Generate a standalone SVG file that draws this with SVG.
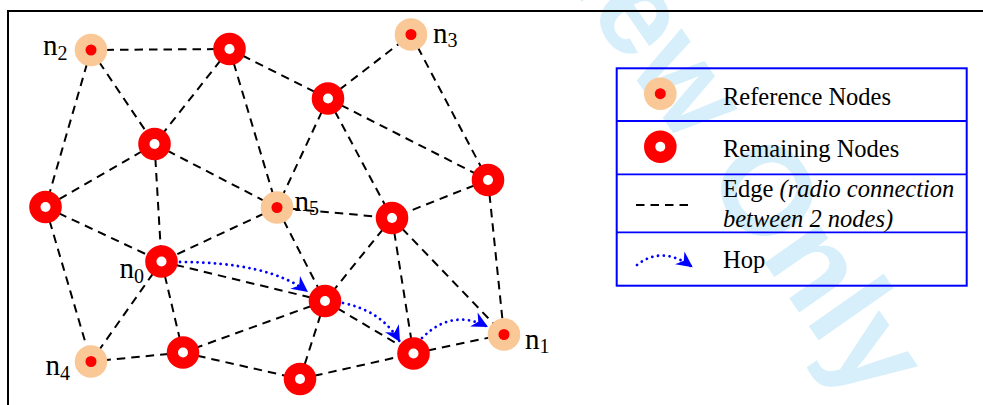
<svg xmlns="http://www.w3.org/2000/svg" width="983" height="405" viewBox="0 0 983 405">
<style>
.edge{stroke:#000;stroke-width:2;stroke-dasharray:8.5 6;fill:none}
.hop{stroke:#0000FF;stroke-width:2.8;stroke-linecap:round;stroke-dasharray:0.01 5.8;fill:none;marker-end:url(#ah)}
.ring{fill:#FF0000}
.hole{fill:#FFFFFF}
.ref{fill:#FAC896}
.dot{fill:#FF0000}
.lbl{font-family:"Liberation Serif","Times New Roman",serif;font-size:29px;fill:#000}
.sub{font-size:20px}
.leg{font-family:"Liberation Serif","Times New Roman",serif;font-size:24.5px;fill:#000}
.wm{font-family:"Liberation Sans",Arial,sans-serif;font-weight:bold;font-size:126px;fill:#D6EFFB}
</style>
<defs>
<marker id="ah" markerUnits="userSpaceOnUse" orient="auto" viewBox="-17 -9 18 18" refX="0" refY="0" markerWidth="18" markerHeight="18">
<path d="M0,0 L-16,-8 L-11,0 L-16,8 Z" fill="#0000FF"/>
</marker>
</defs>
<rect width="983" height="405" fill="#FFFFFF"/>
<g id="watermark"><text class="wm" transform="translate(864,405) rotate(55)" text-anchor="end">For Peer Review Only</text></g>
<g id="frame"><rect x="8" y="11" width="1000" height="500" fill="none" stroke="#000" stroke-width="2"/></g>
<g id="connectors">
<line class="edge" x1="91" y1="50" x2="229.5" y2="49"/>
<line class="edge" x1="91" y1="50" x2="154.5" y2="144"/>
<line class="edge" x1="91" y1="50" x2="45.5" y2="207"/>
<line class="edge" x1="229.5" y1="49" x2="154.5" y2="144"/>
<line class="edge" x1="229.5" y1="49" x2="328" y2="98.5"/>
<line class="edge" x1="229.5" y1="49" x2="277" y2="207.5"/>
<line class="edge" x1="328" y1="98.5" x2="411" y2="34.5"/>
<line class="edge" x1="328" y1="98.5" x2="488" y2="180"/>
<line class="edge" x1="328" y1="98.5" x2="277" y2="207.5"/>
<line class="edge" x1="328" y1="98.5" x2="392" y2="218"/>
<line class="edge" x1="411" y1="34.5" x2="488" y2="180"/>
<line class="edge" x1="154.5" y1="144" x2="45.5" y2="207"/>
<line class="edge" x1="154.5" y1="144" x2="161.5" y2="261.5"/>
<line class="edge" x1="154.5" y1="144" x2="277" y2="207.5"/>
<line class="edge" x1="45.5" y1="207" x2="161.5" y2="261.5"/>
<line class="edge" x1="45.5" y1="207" x2="91" y2="361.5"/>
<line class="edge" x1="277" y1="207.5" x2="161.5" y2="261.5"/>
<line class="edge" x1="277" y1="207.5" x2="392" y2="218"/>
<line class="edge" x1="277" y1="207.5" x2="325" y2="301"/>
<line class="edge" x1="488" y1="180" x2="392" y2="218"/>
<line class="edge" x1="488" y1="180" x2="504" y2="334.5"/>
<line class="edge" x1="392" y1="218" x2="325" y2="301"/>
<line class="edge" x1="392" y1="218" x2="413.5" y2="353.5"/>
<line class="edge" x1="392" y1="218" x2="504" y2="334.5"/>
<line class="edge" x1="161.5" y1="261.5" x2="325" y2="301"/>
<line class="edge" x1="161.5" y1="261.5" x2="91" y2="361.5"/>
<line class="edge" x1="161.5" y1="261.5" x2="183" y2="352.5"/>
<line class="edge" x1="325" y1="301" x2="183" y2="352.5"/>
<line class="edge" x1="325" y1="301" x2="413.5" y2="353.5"/>
<line class="edge" x1="325" y1="301" x2="300" y2="379"/>
<line class="edge" x1="183" y1="352.5" x2="91" y2="361.5"/>
<line class="edge" x1="183" y1="352.5" x2="300" y2="379"/>
<line class="edge" x1="300" y1="379" x2="413.5" y2="353.5"/>
<line class="edge" x1="413.5" y1="353.5" x2="504" y2="334.5"/>
<path class="hop" d="M180,262 Q268,262 308,292"/>
<path class="hop" d="M343,303 Q382,311 400,342"/>
<path class="hop" d="M422,338 Q452,308 488,327"/>
</g>
<g id="n2"><circle class="ref" cx="91" cy="50" r="16.3"/><circle class="dot" cx="91" cy="50" r="5.5"/><text class="lbl" x="43" y="55">n<tspan class="sub" dy="5">2</tspan></text></g>
<g id="r1"><circle class="ring" cx="229.5" cy="49" r="16.3"/><circle class="hole" cx="229.5" cy="49" r="5"/></g>
<g id="n3"><circle class="ref" cx="411" cy="34.5" r="16.3"/><circle class="dot" cx="411" cy="34.5" r="5.5"/><text class="lbl" x="433" y="42.7">n<tspan class="sub" dy="4">3</tspan></text></g>
<g id="r2"><circle class="ring" cx="328" cy="98.5" r="16.3"/><circle class="hole" cx="328" cy="98.5" r="5"/></g>
<g id="r3"><circle class="ring" cx="154.5" cy="144" r="16.3"/><circle class="hole" cx="154.5" cy="144" r="5"/></g>
<g id="r4"><circle class="ring" cx="488" cy="180" r="16.3"/><circle class="hole" cx="488" cy="180" r="5"/></g>
<g id="r5"><circle class="ring" cx="45.5" cy="207" r="16.3"/><circle class="hole" cx="45.5" cy="207" r="5"/></g>
<g id="n5"><circle class="ref" cx="277" cy="207.5" r="16.3"/><circle class="dot" cx="277" cy="207.5" r="5.5"/><text class="lbl" x="294.5" y="210.7">n<tspan class="sub" dy="4.3">5</tspan></text></g>
<g id="r6"><circle class="ring" cx="392" cy="218" r="16.3"/><circle class="hole" cx="392" cy="218" r="5"/></g>
<g id="n0"><circle class="ring" cx="161.5" cy="261.5" r="16.3"/><circle class="hole" cx="161.5" cy="261.5" r="5"/><text class="lbl" x="119.5" y="278.3">n<tspan class="sub" dy="5">0</tspan></text></g>
<g id="r7"><circle class="ring" cx="325" cy="301" r="16.3"/><circle class="hole" cx="325" cy="301" r="5"/></g>
<g id="n1"><circle class="ref" cx="504" cy="334.5" r="16.3"/><circle class="dot" cx="504" cy="334.5" r="5.5"/><text class="lbl" x="525" y="349.3">n<tspan class="sub" dy="4">1</tspan></text></g>
<g id="r8"><circle class="ring" cx="183" cy="352.5" r="16.3"/><circle class="hole" cx="183" cy="352.5" r="5"/></g>
<g id="n4"><circle class="ref" cx="91" cy="361.5" r="16.3"/><circle class="dot" cx="91" cy="361.5" r="5.5"/><text class="lbl" x="45.5" y="375">n<tspan class="sub" dy="5">4</tspan></text></g>
<g id="r9"><circle class="ring" cx="413.5" cy="353.5" r="16.3"/><circle class="hole" cx="413.5" cy="353.5" r="5"/></g>
<g id="r10"><circle class="ring" cx="300" cy="379" r="16.3"/><circle class="hole" cx="300" cy="379" r="5"/></g>
<g id="legend">
<rect x="616.7" y="68.3" width="350" height="217.4" fill="none" stroke="#0000FF" stroke-width="2"/>
<line x1="616.7" y1="121" x2="966.7" y2="121" stroke="#0000FF" stroke-width="1.8"/>
<line x1="616.7" y1="174.3" x2="966.7" y2="174.3" stroke="#0000FF" stroke-width="1.8"/>
<line x1="616.7" y1="232.3" x2="966.7" y2="232.3" stroke="#0000FF" stroke-width="1.8"/>
<circle class="ref" cx="660.3" cy="93.7" r="16.3"/><circle class="dot" cx="660.3" cy="93.7" r="5.5"/>
<text class="leg" x="723" y="105">Reference Nodes</text>
<circle class="ring" cx="660.3" cy="146.7" r="16.3"/><circle class="hole" cx="660.3" cy="146.7" r="5"/>
<text class="leg" x="723" y="157.3">Remaining Nodes</text>
<line class="edge" x1="636" y1="205" x2="688" y2="205"/>
<text class="leg" x="723" y="197.3">Edge <tspan font-style="italic">(radio connection</tspan></text>
<text class="leg" x="723" y="226.7" font-style="italic">between 2 nodes)</text>
<path class="hop" d="M637,265 Q662,245 692.7,267.3"/>
<text class="leg" x="723" y="268.3">Hop</text>
</g>
</svg>
